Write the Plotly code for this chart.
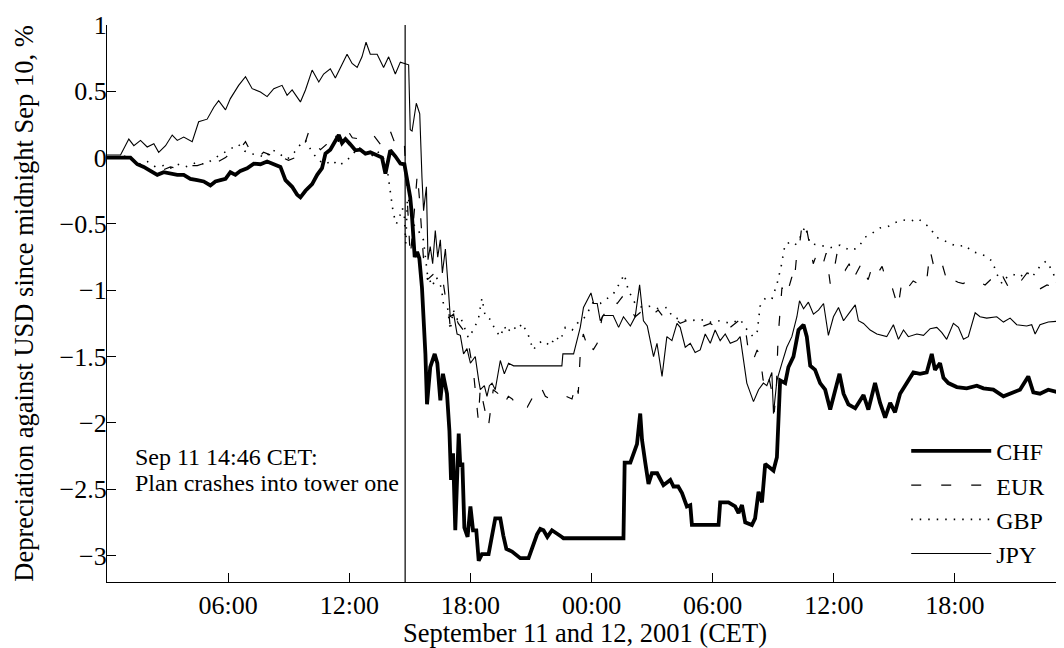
import pandas as pd
import plotly.graph_objects as go

# ---------------- data (hours after 2001-09-11 00:00 CET, % depreciation) ----------------
START = "2001-09-11 00:00"
END_HOURS = 47.35
EVENT_TIME = "2001-09-11 14:46"
EVENT_LABEL_1 = "Sep 11 14:46 CET:"
EVENT_LABEL_2 = "Plan crashes into tower one"

TICK_HOURS = [6, 12, 18, 24, 30, 36, 42]
TICK_LABELS = ["06:00", "12:00", "18:00", "00:00", "06:00", "12:00", "18:00"]

chf_hours = [0.00, 0.67, 1.16, 1.50, 1.82, 2.15, 2.49, 2.81, 3.14, 3.48, 3.80, 4.13, 4.47, 4.79, 5.12, 5.37,
             5.62, 5.87, 6.11, 6.36, 6.61, 6.94, 7.27, 7.60, 7.93, 8.26, 8.59, 8.84, 9.17, 9.42, 9.58, 9.83,
             10.16, 10.41, 10.65, 10.82, 11.06, 11.23, 11.48, 11.64, 11.81, 12.05, 12.30, 12.55, 12.80, 13.04,
             13.38, 13.62, 13.79, 14.03, 14.28, 14.53, 14.73, 14.86, 14.94, 15.02, 15.11, 15.19, 15.24, 15.36,
             15.47, 15.60, 15.68, 15.77, 15.85, 16.01, 16.23, 16.36, 16.51, 16.64, 16.84, 16.96, 17.04, 17.14,
             17.25, 17.34, 17.42, 17.50, 17.60, 17.70, 17.86, 18.00, 18.13, 18.29, 18.41, 18.57, 18.90, 19.23,
             19.48, 19.63, 19.78, 20.06, 20.47, 20.88, 21.05, 21.30, 21.46, 21.62, 21.81, 22.04, 22.53, 22.61,
             25.58, 25.64, 25.92, 26.08, 26.25, 26.41, 26.50, 26.66, 26.82, 26.99, 27.25, 27.56, 27.90, 28.06,
             28.29, 28.48, 28.72, 28.89, 28.97, 30.29, 30.37, 30.78, 31.11, 31.28, 31.45, 31.61, 31.94, 32.10,
             32.27, 32.44, 32.60, 32.85, 33.01, 33.18, 33.27, 33.34, 33.59, 33.75, 34.00, 34.25, 34.50, 34.66,
             34.83, 35.07, 35.32, 35.57, 35.82, 36.07, 36.28, 36.48, 36.72, 37.06, 37.47, 37.71, 38.04, 38.29,
             38.54, 38.79, 39.03, 39.28, 39.61, 39.94, 40.27, 40.60, 40.85, 41.01, 41.26, 41.43, 41.67, 42.09,
             42.58, 43.08, 43.41, 43.90, 44.40, 44.89, 45.22, 45.63, 45.88, 46.21, 46.62, 47.35]
chf_values = [0.00, 0.00, 0.00, -0.05, -0.07, -0.10, -0.13, -0.11, -0.12, -0.13, -0.13, -0.16, -0.17, -0.18, -0.21, -0.18,
              -0.17, -0.16, -0.11, -0.13, -0.10, -0.08, -0.045, -0.05, -0.03, -0.05, -0.07, -0.17, -0.22, -0.28, -0.30, -0.25,
              -0.20, -0.13, -0.08, 0.03, 0.06, 0.105, 0.17, 0.11, 0.14, 0.10, 0.055, 0.06, 0.03, 0.04,
              0.017, 0.00, -0.12, 0.055, 0.01, -0.045, -0.05, -0.17, -0.27, -0.30, -0.45, -0.62, -0.75, -0.71,
              -0.76, -0.98, -1.18, -1.48, -1.86, -1.58, -1.48, -1.55, -1.83, -1.63, -1.78, -2.06, -2.43, -2.23,
              -2.81, -2.28, -2.08, -2.33, -2.30, -2.79, -2.86, -2.63, -2.81, -2.81, -3.04, -2.99, -2.99, -2.72,
              -2.72, -2.85, -2.95, -2.97, -3.02, -3.02, -2.94, -2.84, -2.80, -2.81, -2.86, -2.81, -2.86, -2.87,
              -2.87, -2.30, -2.30, -2.23, -2.16, -1.93, -2.13, -2.30, -2.46, -2.38, -2.38, -2.47, -2.43, -2.48,
              -2.48, -2.53, -2.63, -2.62, -2.77, -2.77, -2.60, -2.60, -2.63, -2.68, -2.62, -2.75, -2.77, -2.72,
              -2.52, -2.60, -2.31, -2.34, -2.36, -2.26, -2.00, -1.68, -1.70, -1.58, -1.50, -1.30, -1.26, -1.35,
              -1.57, -1.60, -1.70, -1.75, -1.90, -1.75, -1.63, -1.78, -1.86, -1.89, -1.79, -1.90, -1.70, -1.85,
              -1.96, -1.85, -1.92, -1.78, -1.70, -1.62, -1.63, -1.62, -1.48, -1.60, -1.55, -1.66, -1.70, -1.73,
              -1.74, -1.72, -1.74, -1.75, -1.80, -1.77, -1.75, -1.65, -1.77, -1.78, -1.75, -1.78]

eur_hours = [0.00, 0.92, 1.31, 1.66, 2.15, 2.65, 3.14, 3.64, 4.13, 4.47, 4.88, 5.22, 5.52, 5.87, 6.21, 6.61,
             6.86, 7.20, 7.50, 7.75, 8.09, 8.34, 8.69, 8.99, 9.33, 9.66, 9.98, 10.22, 10.57, 10.87, 11.21, 11.46,
             11.81, 12.15, 12.55, 12.85, 13.19, 13.54, 13.79, 14.03, 14.23, 14.45, 14.63, 14.73, 14.83, 14.93,
             15.02, 15.17, 15.37, 15.47, 15.57, 15.67, 15.87, 16.16, 16.41, 16.61, 16.76, 16.91, 17.00, 17.25,
             17.40, 17.65, 17.90, 18.16, 18.39, 18.49, 18.64, 18.89, 19.13, 19.38, 19.63, 19.88, 20.07, 20.32,
             20.57, 20.82, 21.11, 21.46, 21.71, 22.05, 22.45, 22.75, 23.03, 23.24, 23.34, 23.44, 23.59, 23.79,
             23.94, 24.08, 24.28, 24.53, 24.78, 25.02, 25.27, 25.52, 25.82, 26.16, 26.56, 26.91, 27.30, 27.65,
             28.04, 28.39, 28.88, 29.38, 29.88, 30.37, 30.87, 31.36, 31.61, 31.76, 32.00, 32.20, 32.35, 32.50,
             32.70, 32.95, 33.05, 33.15, 33.24, 33.43, 33.64, 33.92, 34.03, 34.17, 34.33, 34.43, 34.58, 34.73,
             34.98, 35.17, 35.32, 35.47, 35.62, 35.82, 36.01, 36.16, 36.31, 36.56, 36.76, 36.95, 37.20, 37.39,
             37.55, 37.70, 37.90, 38.14, 38.39, 38.64, 38.89, 39.18, 39.38, 39.68, 39.93, 40.17, 40.42, 40.62,
             40.77, 40.92, 41.11, 41.36, 41.66, 41.90, 42.15, 42.40, 42.75, 43.09, 43.49, 43.84, 44.13, 44.38,
             44.73, 44.97, 45.27, 45.57, 45.87, 46.21, 46.56, 46.96, 47.35]
eur_values = [0.00, 0.00, -0.03, -0.06, -0.08, -0.10, -0.07, -0.09, -0.06, -0.06, -0.04, -0.07, -0.03, 0.00, 0.05, 0.07,
              0.12, 0.02, 0.00, 0.04, 0.02, 0.055, 0.00, -0.02, 0.00, 0.04, 0.19, 0.12, 0.06, 0.10, 0.20, 0.12,
              0.23, 0.15, 0.14, 0.18, 0.17, 0.10, 0.20, 0.20, 0.12, 0.14, 0.16, 0.10, -0.20, -0.55,
              -0.75, -0.50, -0.12, -0.30, -0.50, -0.75, -0.92, -0.88, -0.86, -0.90, -1.05, -1.13, -1.28, -1.20,
              -1.25, -1.30, -1.40, -1.63, -1.98, -1.73, -1.85, -2.03, -1.75, -1.78, -1.87, -1.80, -1.82, -1.87,
              -1.84, -1.88, -1.80, -1.72, -1.80, -1.83, -1.82, -1.80, -1.82, -1.70, -1.78, -1.48, -1.33, -1.42,
              -1.38, -1.45, -1.40, -1.20, -1.15, -1.08, -1.10, -1.05, -1.12, -1.20, -1.15, -1.20, -1.15, -1.22,
              -1.20, -1.25, -1.22, -1.28, -1.25, -1.30, -1.28, -1.22, -1.28, -1.45, -1.53, -1.45, -1.50, -1.68,
              -1.60, -1.78, -1.92, -1.75, -1.35, -0.98, -1.05, -0.90, -0.95, -0.72, -0.62, -0.50, -0.48, -0.60,
              -0.80, -0.72, -0.78, -0.80, -0.72, -0.95, -0.85, -0.72, -0.80, -0.85, -0.80, -0.92, -0.84, -0.79,
              -0.88, -0.92, -0.82, -0.88, -0.82, -0.95, -0.98, -1.13, -0.92, -0.98, -0.93, -0.95, -0.87, -0.90,
              -0.70, -0.80, -0.86, -0.80, -0.96, -0.92, -0.94, -0.95, -0.92, -0.93, -0.96, -0.91, -0.96, -0.90,
              -1.00, -0.97, -0.93, -0.87, -0.92, -0.99, -0.96, -0.98, -0.97]

gbp_hours = [0.00, 0.92, 1.31, 1.66, 2.00, 2.40, 2.80, 3.14, 3.49, 3.89, 4.38, 4.88, 5.37, 5.72, 6.11, 6.51,
             6.81, 7.10, 7.50, 7.85, 8.19, 8.59, 8.94, 9.28, 9.58, 9.83, 10.17, 10.47, 10.82, 11.16, 11.46, 11.81,
             12.15, 12.45, 12.75, 13.04, 13.34, 13.64, 13.89, 13.99, 14.08, 14.18, 14.33, 14.48, 14.63, 14.73,
             14.80, 14.88, 15.02, 15.17, 15.42, 15.67, 15.87, 16.11, 16.31, 16.56, 16.66, 16.86, 17.00, 17.15,
             17.35, 17.50, 17.75, 17.90, 18.14, 18.39, 18.57, 18.74, 18.99, 19.23, 19.48, 19.68, 19.83, 20.07,
             20.32, 20.57, 20.87, 21.11, 21.36, 21.61, 21.96, 22.20, 22.45, 22.70, 23.04, 23.29, 23.69, 24.08,
             24.43, 24.78, 25.07, 25.42, 25.62, 25.82, 26.16, 26.51, 26.91, 27.30, 27.75, 28.00, 28.39, 28.88,
             29.38, 29.88, 30.37, 30.87, 31.36, 31.71, 32.00, 32.20, 32.35, 32.65, 32.95, 33.19, 33.39, 33.59,
             33.84, 34.08, 34.33, 34.58, 34.83, 35.32, 35.82, 36.31, 36.81, 37.20, 37.55, 37.90, 38.29, 38.68,
             39.03, 39.43, 39.78, 40.17, 40.52, 40.77, 41.06, 41.41, 41.76, 42.15, 42.50, 42.85, 43.14, 43.49,
             43.84, 44.08, 44.33, 44.58, 44.88, 45.22, 45.52, 45.82, 46.21, 46.51, 46.81, 47.06, 47.35]
gbp_values = [0.00, 0.01, -0.02, -0.05, -0.03, -0.07, -0.06, -0.08, -0.05, -0.07, -0.04, -0.05, 0.00, 0.03, 0.06, 0.10,
              0.05, 0.03, 0.02, 0.00, 0.06, 0.02, -0.01, 0.04, 0.10, 0.13, 0.04, -0.02, -0.05, -0.02, -0.06, -0.03,
              0.02, 0.08, 0.04, 0.00, 0.05, 0.02, -0.10, -0.20, -0.30, -0.42, -0.50, -0.45, -0.38, -0.45,
              -0.65, -0.30, -0.35, -0.50, -0.55, -0.62, -0.88, -0.97, -0.90, -0.98, -1.10, -1.12, -1.30, -1.15,
              -1.22, -1.20, -1.30, -1.36, -1.30, -1.22, -1.06, -1.20, -1.22, -1.30, -1.35, -1.27, -1.32, -1.27,
              -1.30, -1.25, -1.34, -1.45, -1.40, -1.38, -1.42, -1.35, -1.38, -1.28, -1.30, -1.25, -1.20, -1.09,
              -1.10, -1.06, -1.03, -0.94, -0.88, -1.00, -1.10, -1.13, -1.12, -1.14, -1.13, -1.20, -1.22, -1.23,
              -1.22, -1.24, -1.23, -1.25, -1.22, -1.30, -1.35, -1.32, -1.12, -1.05, -1.06, -0.95, -0.82, -0.65,
              -0.64, -0.66, -0.60, -0.52, -0.65, -0.66, -0.68, -0.66, -0.70, -0.68, -0.60, -0.57, -0.53, -0.52,
              -0.49, -0.47, -0.48, -0.46, -0.50, -0.53, -0.60, -0.62, -0.65, -0.67, -0.66, -0.71, -0.72, -0.74,
              -0.78, -0.88, -0.95, -0.90, -0.88, -0.90, -0.86, -0.90, -0.82, -0.78, -0.85, -0.95, -0.92]

jpy_hours = [0.00, 0.67, 1.08, 1.33, 1.66, 1.99, 2.32, 2.56, 2.90, 3.23, 3.48, 3.80, 4.22, 4.54, 4.96, 5.29,
             5.53, 5.87, 6.11, 6.52, 6.86, 7.19, 7.60, 7.93, 8.26, 8.67, 8.92, 9.17, 9.58, 9.83, 10.16, 10.49,
             10.73, 11.06, 11.31, 11.56, 11.89, 12.14, 12.39, 12.63, 12.83, 13.04, 13.38, 13.70, 13.95, 14.28,
             14.53, 14.73, 14.94, 15.02, 15.11, 15.32, 15.49, 15.60, 15.68, 15.82, 15.90, 16.01, 16.13, 16.26,
             16.38, 16.51, 16.61, 16.76, 16.84, 16.92, 17.00, 17.17, 17.34, 17.50, 17.66, 17.83, 18.00, 18.24,
             18.41, 18.49, 18.69, 18.82, 18.94, 19.07, 19.23, 19.48, 19.68, 19.89, 20.14, 22.53, 22.58, 23.11,
             23.44, 23.60, 23.97, 24.10, 24.28, 24.43, 24.58, 25.07, 25.34, 25.58, 25.92, 26.16, 26.38, 26.57,
             26.76, 27.07, 27.24, 27.49, 27.73, 27.98, 28.23, 28.39, 28.64, 28.89, 29.13, 29.38, 29.63, 29.88,
             30.12, 30.37, 30.62, 30.87, 31.20, 31.36, 31.69, 32.02, 32.27, 32.51, 32.68, 32.93, 33.01, 33.18,
             33.43, 33.67, 33.92, 34.17, 34.30, 34.50, 34.74, 34.99, 35.24, 35.49, 35.73, 35.98, 36.23, 36.48,
             36.72, 37.06, 37.22, 37.47, 37.80, 38.13, 38.62, 38.95, 39.20, 39.45, 39.69, 40.11, 40.44, 40.77,
             41.10, 41.35, 41.59, 41.92, 42.17, 42.42, 42.66, 43.00, 43.24, 43.57, 44.07, 44.40, 44.73, 45.06,
             45.55, 45.80, 45.97, 46.21, 46.62, 47.35]
jpy_values = [0.02, 0.02, 0.14, 0.09, 0.13, 0.08, 0.105, 0.04, 0.09, 0.17, 0.13, 0.155, 0.12, 0.27, 0.29, 0.38,
              0.43, 0.36, 0.445, 0.545, 0.61, 0.52, 0.495, 0.46, 0.52, 0.545, 0.47, 0.51, 0.42, 0.51, 0.66, 0.57,
              0.63, 0.67, 0.60, 0.68, 0.78, 0.71, 0.68, 0.76, 0.87, 0.78, 0.78, 0.68, 0.76, 0.63,
              0.72, 0.71, 0.70, 0.21, 0.20, 0.41, 0.33, -0.15, -0.40, -0.22, -0.77, -0.67, -0.80, -0.55,
              -0.75, -0.62, -0.87, -0.69, -0.90, -1.02, -1.20, -1.18, -1.33, -1.34, -1.48, -1.44, -1.55, -1.50,
              -1.68, -1.75, -1.72, -1.80, -1.72, -1.70, -1.75, -1.53, -1.63, -1.55, -1.57, -1.57, -1.48, -1.48,
              -1.28, -1.13, -1.02, -1.10, -1.10, -1.23, -1.19, -1.19, -1.28, -1.20, -1.27, -1.20, -0.96, -1.23,
              -1.27, -1.50, -1.40, -1.65, -1.35, -1.38, -1.25, -1.28, -1.43, -1.40, -1.47, -1.45, -1.33, -1.40,
              -1.30, -1.38, -1.33, -1.40, -1.38, -1.35, -1.70, -1.84, -1.75, -1.70, -1.72, -1.62, -1.93, -1.68,
              -1.55, -1.43, -1.35, -1.20, -1.08, -1.14, -1.09, -1.18, -1.15, -1.10, -1.34, -1.20, -1.13, -1.23,
              -1.18, -1.11, -1.23, -1.25, -1.30, -1.33, -1.35, -1.26, -1.37, -1.30, -1.35, -1.33, -1.34, -1.29,
              -1.28, -1.32, -1.37, -1.25, -1.28, -1.37, -1.35, -1.17, -1.20, -1.21, -1.20, -1.24, -1.21, -1.26,
              -1.27, -1.26, -1.33, -1.26, -1.24, -1.23]

# ---------------- figure ----------------
base = pd.Timestamp(START)


def to_time(hours):
    return base + pd.to_timedelta(pd.Series(hours, dtype=float), unit="h")


series = [
    ("CHF", chf_hours, chf_values, dict(color="black", width=3.8)),
    ("EUR", eur_hours, eur_values, dict(color="black", width=1.2, dash="10px,20px")),
    ("GBP", gbp_hours, gbp_values, dict(color="black", width=1.6, dash="1.5px,7px")),
    ("JPY", jpy_hours, jpy_values, dict(color="black", width=1.1)),
]

fig = go.Figure()
for name, hrs, vals, line in series:
    fig.add_trace(go.Scatter(x=to_time(hrs), y=vals, mode="lines", name=name, line=line))

FONT = "Liberation Serif"
fig.add_shape(type="line", x0=pd.Timestamp(EVENT_TIME), x1=pd.Timestamp(EVENT_TIME), xref="x",
              y0=0, y1=1, yref="paper", line=dict(color="black", width=1.2))
fig.add_annotation(x=0.027, xref="paper", y=-2.26, yref="y", text=EVENT_LABEL_1, showarrow=False,
                   xanchor="left", yanchor="middle", font=dict(family=FONT, size=24, color="black"))
fig.add_annotation(x=0.027, xref="paper", y=-2.45, yref="y", text=EVENT_LABEL_2, showarrow=False,
                   xanchor="left", yanchor="middle", font=dict(family=FONT, size=24, color="black"))

tick_times = list(to_time(TICK_HOURS))
# the page body has an 8px margin, so the figure is 16px smaller than the window
fig.update_layout(
    width=1056, height=640,
    margin=dict(l=99, r=1, t=17, b=66, autoexpand=False),
    paper_bgcolor="white", plot_bgcolor="white",
    font=dict(family=FONT, size=26, color="black"),
    showlegend=True,
    legend=dict(x=0.836, y=0.275, xanchor="left", yanchor="top", bgcolor="rgba(0,0,0,0)",
                font=dict(family=FONT, size=24), itemwidth=80, tracegroupgap=0),
)
fig.update_xaxes(
    type="date", range=[base, base + pd.Timedelta(hours=END_HOURS)],
    tickmode="array", tickvals=tick_times, ticktext=TICK_LABELS,
    tickfont=dict(family=FONT, size=26),
    ticks="inside", ticklen=9, tickwidth=1.3, tickcolor="black",
    showline=True, linecolor="black", linewidth=1.3, mirror=False,
    showgrid=False, zeroline=False,
    title=dict(text="September 11 and 12, 2001 (CET)", standoff=2, font=dict(family=FONT, size=26.5)),
)
fig.update_yaxes(
    range=[-3.2, 1], tick0=0, dtick=0.5,
    tickfont=dict(family=FONT, size=26),
    ticks="inside", ticklen=9, tickwidth=1.3, tickcolor="black",
    ticklabelstandoff=-6,
    showline=True, linecolor="black", linewidth=1.3, mirror=False,
    showgrid=False, zeroline=False,
    title=dict(text="Depreciation against USD since midnight Sep 10, %", standoff=18,
               font=dict(family=FONT, size=26.5)),
)

fig.write_html("out.html")
